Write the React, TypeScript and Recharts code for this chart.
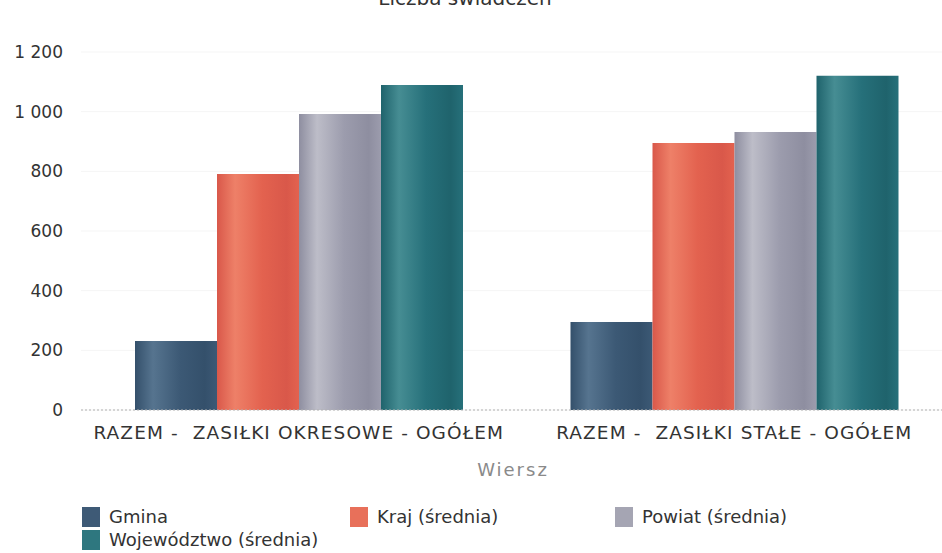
import React from 'react';
import { BarChart, Bar, XAxis, YAxis, CartesianGrid, Legend } from 'recharts';

const categories = ['RAZEM -\u00A0 ZASIŁKI OKRESOWE - OGÓŁEM', 'RAZEM -\u00A0 ZASIŁKI STAŁE - OGÓŁEM'];
const gmina = [231, 295];
const kraj = [791, 895];
const powiat = [992, 932];
const wojewodztwo = [1089, 1120];
const yTicks = [0, 200, 400, 600, 800, 1000, 1200];
const seriesNames = ['Gmina', 'Kraj (średnia)', 'Powiat (średnia)', 'Województwo (średnia)'];

const data = categories.map((c, i) => ({
  name: c,
  gmina: gmina[i],
  kraj: kraj[i],
  powiat: powiat[i],
  woj: wojewodztwo[i],
}));

const FONT = '"DejaVu Sans", sans-serif';

const grads = [
  { id: 'gGmina', edge: '#34506b', mid: '#56748f', base: '#3c5975', key: 'gmina', legend: '#3e5a76' },
  { id: 'gKraj', edge: '#d9584a', mid: '#ee8068', base: '#e3624f', key: 'kraj', legend: '#e8705a' },
  { id: 'gPowiat', edge: '#8e8ea0', mid: '#bdbdc8', base: '#9c9cad', key: 'powiat', legend: '#a5a5b3' },
  { id: 'gWoj', edge: '#1f636c', mid: '#468d93', base: '#26707a', key: 'woj', legend: '#2e777f' },
];

const fmt = (v: number) => String(v).replace(/\B(?=(\d{3})+(?!\d))/g, ' ');

const legendPos = [
  { left: 82, top: 507 },
  { left: 350, top: 507 },
  { left: 615, top: 507 },
  { left: 82, top: 530 },
];

const CustomLegend = () => (
  <div style={{ position: 'absolute', left: 0, top: 0, width: 942, height: 553, pointerEvents: 'none' }}>
    {seriesNames.map((n, i) => (
      <div key={n} style={{ position: 'absolute', left: legendPos[i].left, top: legendPos[i].top, display: 'flex', alignItems: 'center', height: 20 }}>
        <div style={{ width: 18, height: 20, background: grads[i].legend, marginRight: 9 }} />
        <span style={{ fontFamily: FONT, fontSize: 18, color: '#333', lineHeight: '20px', whiteSpace: 'nowrap' }}>{n}</span>
      </div>
    ))}
  </div>
);

export default function App() {
  return (
    <div style={{ position: 'absolute', left: 0, top: 0, width: 942, height: 553, overflow: 'hidden', background: '#fff' }}>
      <div style={{ position: 'absolute', left: 0, width: 930, top: -14, lineHeight: '24px', textAlign: 'center', fontFamily: FONT, fontSize: 20, color: '#333' }}>
        Liczba świadczeń
      </div>
      <BarChart
        width={952}
        height={553}
        data={data}
        margin={{ top: 52, right: 0, bottom: 113, left: 0 }}
        barCategoryGap={54}
        barGap={0}
      >
        <defs>
          {grads.map((g) => (
            <linearGradient key={g.id} id={g.id} x1="0" y1="0" x2="1" y2="0">
              <stop offset="0%" stopColor={g.edge} />
              <stop offset="22%" stopColor={g.mid} />
              <stop offset="55%" stopColor={g.base} />
              <stop offset="85%" stopColor={g.edge} />
              <stop offset="100%" stopColor={g.base} />
            </linearGradient>
          ))}
        </defs>
        <CartesianGrid vertical={false} stroke="#f5f5f5" />
        <XAxis
          dataKey="name"
          axisLine={{ stroke: '#b0b0b0', strokeDasharray: '2 2' }}
          tickLine={false}
          tickSize={0}
          tickMargin={16}
          interval={0}
          tick={{ fill: '#333', fontSize: 18.5, fontFamily: FONT, letterSpacing: 1.1 }}
        />
        <YAxis
          width={81}
          domain={[0, 1200]}
          ticks={yTicks}
          axisLine={false}
          tickLine={false}
          tickSize={0}
          tickMargin={18}
          tickFormatter={fmt}
          tick={{ fill: '#333', fontSize: 17, fontFamily: FONT }}
        />
        {grads.map((g, i) => (
          <Bar key={g.key} dataKey={g.key} name={seriesNames[i]} fill={`url(#${g.id})`} isAnimationActive={false} />
        ))}
        <Legend content={() => null} />
      </BarChart>
      <div style={{ position: 'absolute', left: 0, width: 1026, top: 458, lineHeight: '24px', textAlign: 'center', fontFamily: FONT, fontSize: 18, color: '#8a8a8a', letterSpacing: 2 }}>
        Wiersz
      </div>
      <CustomLegend />
    </div>
  );
}
